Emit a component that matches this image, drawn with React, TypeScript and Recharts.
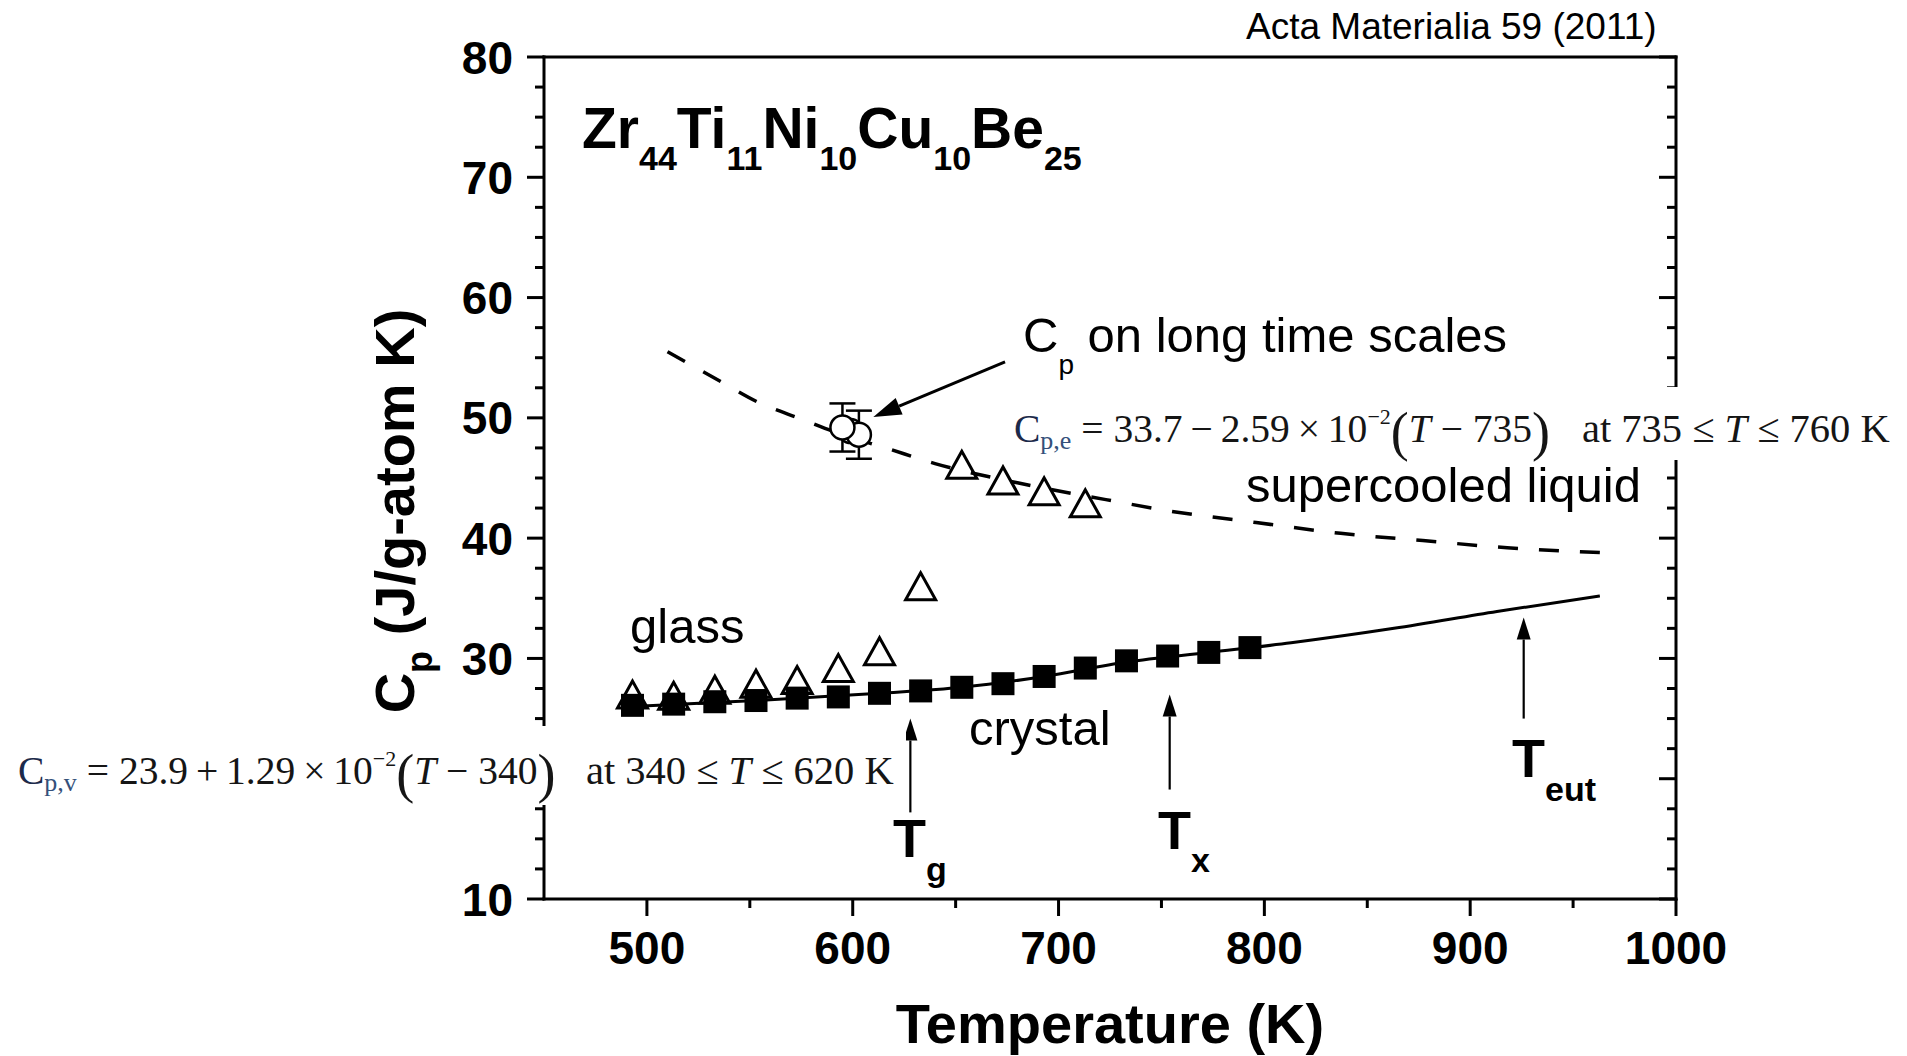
import React from "react"
import { ComposedChart, Line, Scatter, XAxis, YAxis, ErrorBar, ReferenceLine } from "recharts"

// ─── values ──────────────────────────────────────────────────────────────────

// open triangles: glass (heating) + supercooled liquid
const TRI_T = [493, 513, 533, 553, 573, 593, 613, 633, 653, 673, 693, 713]
const TRI_CP = [27.0, 26.9, 27.4, 27.9, 28.2, 29.2, 30.6, 36.0, 46.1, 44.8, 43.9, 42.9]

// filled squares: crystal
const SQ_T = [493, 513, 533, 553, 573, 593, 613, 633, 653, 673, 693, 713, 733, 753, 773, 793]
const SQ_CP = [26.1, 26.2, 26.4, 26.5, 26.7, 26.8, 27.1, 27.3, 27.6, 27.9, 28.5, 29.2, 29.8, 30.2, 30.5, 30.9]

// solid curve through the crystal data, extended to T_eut
const CRYS_T = [493, 553, 613, 653, 693, 733, 773, 813, 863, 913, 963]
const CRYS_CP = [26.0, 26.5, 27.1, 27.6, 28.5, 29.7, 30.5, 31.3, 32.5, 33.9, 35.2]

// dashed curve: supercooled liquid
const LIQ_T = [510, 536, 554, 575, 595, 616, 640, 680, 723, 756, 796, 837, 877, 918, 963]
const LIQ_CP = [55.5, 53.0, 51.3, 49.9, 48.6, 47.5, 46.2, 44.6, 43.2, 42.2, 41.3, 40.4, 39.8, 39.2, 38.8]

// open circles: Cp on long time scales (two with error bars)
const LONG_T = [603, 595]
const LONG_CP = [48.6, 49.2]
const LONG_ERR = [2.0, 2.0]
const LONG_MID_T = [599]
const LONG_MID_CP = [48.9]

const X_TICKS = [500, 550, 600, 650, 700, 750, 800, 850, 900, 950, 1000]
const Y_TICKS = [
  10, 12.5, 15, 17.5, 20, 22.5, 25, 27.5, 30, 32.5, 35, 37.5, 40, 42.5, 45, 47.5,
  50, 52.5, 55, 57.5, 60, 62.5, 65, 67.5, 70, 72.5, 75, 77.5, 80,
]
// the "20" label sits under the pasted equation in the figure
const Y_HIDDEN_LABELS = [20]

// arrows: [from, to] in data units
const ARROWS = [
  { from: [628, 17.2], to: [628, 25.0], head: 22, half: 7, w: 2.2 },
  { from: [754, 19.1], to: [754, 27.0], head: 22, half: 7, w: 2.2 },
  { from: [926, 25.0], to: [926, 33.4], head: 22, half: 7, w: 2.2 },
  { from: [674, 54.65], to: [610, 50.07], head: 28, half: 9, w: 3 },
]

const pts = (ts: number[], vs: number[]) => ts.map((t, i) => ({ t, v: vs[i] }))
const triData = pts(TRI_T, TRI_CP)
const sqData = pts(SQ_T, SQ_CP)
const crysData = pts(CRYS_T, CRYS_CP)
const liqData = pts(LIQ_T, LIQ_CP)
const longData = LONG_T.map((t, i) => ({ t, v: LONG_CP[i], err: LONG_ERR[i] }))
const longMidData = pts(LONG_MID_T, LONG_MID_CP)

const SANS = "'Liberation Sans', Arial, Helvetica, sans-serif"
const SERIF = "'Liberation Serif', 'Times New Roman', serif"
const MAJOR = 17
const MINOR = 9
const AXIS_W = 3
const THIN = "\u2009"

// ─── ticks ───────────────────────────────────────────────────────────────────

function BottomTick({ x, y, payload }: any) {
  const major = payload.value % 100 === 0
  return (
    <g>
      <line x1={x} x2={x} y1={y} y2={y + (major ? MAJOR : MINOR)} stroke="#000" strokeWidth={AXIS_W} />
      {major && (
        <text x={x} y={y + 65} textAnchor="middle" fontFamily={SANS} fontSize={46} fontWeight="bold" fill="#000">
          {payload.value}
        </text>
      )}
    </g>
  )
}

function TopTick({ x, y, payload }: any) {
  const major = payload.value % 100 === 0
  return <line x1={x} x2={x} y1={y} y2={y + (major ? MAJOR : MINOR)} stroke="#000" strokeWidth={AXIS_W} />
}

function LeftTick({ x, y, payload }: any) {
  const major = payload.value % 10 === 0
  const showLabel = major && !Y_HIDDEN_LABELS.includes(payload.value)
  return (
    <g>
      <line x1={x} x2={x - (major ? MAJOR : MINOR)} y1={y} y2={y} stroke="#000" strokeWidth={AXIS_W} />
      {showLabel && (
        <text x={x - 31} y={y + 16.5} textAnchor="end" fontFamily={SANS} fontSize={46} fontWeight="bold" fill="#000">
          {payload.value}
        </text>
      )}
    </g>
  )
}

function RightTick({ x, y, payload }: any) {
  const major = payload.value % 10 === 0
  return <line x1={x} x2={x - (major ? MAJOR : MINOR)} y1={y} y2={y} stroke="#000" strokeWidth={AXIS_W} />
}

// ─── markers ─────────────────────────────────────────────────────────────────

const Triangle = ({ cx, cy }: any) => (
  <polygon
    points={`${cx},${cy - 13.5} ${cx - 15},${cy + 13.5} ${cx + 15},${cy + 13.5}`}
    fill="none" stroke="#000" strokeWidth={3} strokeLinejoin="miter"
  />
)
const Square = ({ cx, cy }: any) => <rect x={cx - 11.5} y={cy - 11.5} width={23} height={23} fill="#000" />
const Ring = ({ cx, cy }: any) => <circle cx={cx} cy={cy} r={12} fill="#fff" stroke="#000" strokeWidth={2.5} />

function arrowShape(head: number, half: number, w: number) {
  return (p: any) => {
    const { x1, y1, x2, y2 } = p
    if (x1 == null || x2 == null) return <g />
    const dx = x2 - x1
    const dy = y2 - y1
    const len = Math.hypot(dx, dy) || 1
    const ux = dx / len
    const uy = dy / len
    const bx = x2 - ux * head
    const by = y2 - uy * head
    return (
      <g>
        <line x1={x1} y1={y1} x2={bx} y2={by} stroke="#000" strokeWidth={w} />
        <polygon
          points={`${x2},${y2} ${bx - uy * half},${by + ux * half} ${bx + uy * half},${by - ux * half}`}
          fill="#000"
        />
      </g>
    )
  }
}

// ─── overlay text ────────────────────────────────────────────────────────────

function Equation({ x, y, sub, body, inner, xB, range }: any) {
  return (
    <g>
      <text x={x} y={y} fontFamily={SERIF} fontSize={39.5} fill="#151515">
        <tspan fill="#1c2a4a">C</tspan>
        <tspan fontSize={26} dy={7} fill="#34507a">{sub}</tspan>
        <tspan dy={-7}>{body}</tspan>
        <tspan fontSize={22} dy={-18}>−2</tspan>
        <tspan fontSize={54} dy={26}>(</tspan>
        <tspan dy={-8} fontStyle="italic">T</tspan>
        <tspan>{inner}</tspan>
        <tspan fontSize={54} dy={8}>)</tspan>
      </text>
      <text x={xB} y={y} fontFamily={SERIF} fontSize={40.5} fill="#151515">
        at {range[0]} ≤ <tspan fontStyle="italic">T</tspan> ≤ {range[1]} K
      </text>
    </g>
  )
}

function Overlay() {
  const t = { fontFamily: SANS, fill: "#000" }
  return (
    <svg width={1907} height={1056} style={{ position: "absolute", left: 0, top: 0 }}>
      <text x={1246} y={39} fontSize={37} {...t}>Acta Materialia 59 (2011)</text>

      <text x={582} y={148} fontSize={57} fontWeight="bold" {...t}>
        Zr<tspan fontSize={34} dy={22}>44</tspan>
        <tspan dy={-22}>Ti</tspan><tspan fontSize={34} dy={22}>11</tspan>
        <tspan dy={-22}>Ni</tspan><tspan fontSize={34} dy={22}>10</tspan>
        <tspan dy={-22}>Cu</tspan><tspan fontSize={34} dy={22}>10</tspan>
        <tspan dy={-22}>Be</tspan><tspan fontSize={34} dy={22}>25</tspan>
      </text>

      <text x={1023} y={352} fontSize={49} {...t}>
        C<tspan fontSize={28} dy={22}>p</tspan><tspan dy={-22}> on long time scales</tspan>
      </text>
      <text x={1246} y={502} fontSize={49} {...t}>supercooled liquid</text>
      <text x={630} y={643} fontSize={49} {...t}>glass</text>
      <text x={969} y={745} fontSize={49} {...t}>crystal</text>

      <text x={893} y={857} fontSize={54} fontWeight="bold" {...t}>
        T<tspan fontSize={34} dy={24}>g</tspan>
      </text>
      <text x={1158} y={849} fontSize={54} fontWeight="bold" {...t}>
        T<tspan fontSize={34} dy={23}>x</tspan>
      </text>
      <text x={1512} y={777} fontSize={54} fontWeight="bold" {...t}>
        T<tspan fontSize={34} dy={24}>eut</tspan>
      </text>

      {/* axis titles */}
      <text x={1110} y={1043} textAnchor="middle" fontSize={56} fontWeight="bold" {...t}>Temperature (K)</text>
      <text x={414} y={511} textAnchor="middle" fontSize={56} fontWeight="bold" transform="rotate(-90 414 511)" {...t}>
        C<tspan fontSize={36} dy={18}>p</tspan><tspan dy={-18}> (J/g-atom K)</tspan>
      </text>

      {/* equations pasted over the figure */}
      <rect x={0} y={726} width={906} height={79} fill="#fff" />
      <Equation
        x={18} y={784} sub="p,v" body={` = 23.9${THIN}+${THIN}1.29${THIN}×${THIN}10`} inner=" − 340"
        xB={586} range={[340, 620]}
      />
      <rect x={1003} y={387} width={904} height={73} fill="#fff" />
      <Equation
        x={1014} y={442} sub="p,e" body={` = 33.7${THIN}−${THIN}2.59${THIN}×${THIN}10`} inner=" − 735"
        xB={1582} range={[735, 760]}
      />
    </svg>
  )
}

// ─── chart ───────────────────────────────────────────────────────────────────

export default function App() {
  const axisLine = { stroke: "#000", strokeWidth: AXIS_W, strokeLinecap: "square" as const }
  return (
    <div style={{ position: "absolute", left: 0, top: 0, width: 1907, height: 1056, background: "#fff" }}>
      <ComposedChart width={1907} height={1056} margin={{ top: 56, right: 230, bottom: 156, left: 424 }}>
        <XAxis
          xAxisId="b" dataKey="t" type="number" domain={[450, 1000]} ticks={X_TICKS} interval={0}
          allowDataOverflow height={1} tickSize={0} tickMargin={0} tickLine={false}
          axisLine={axisLine} tick={<BottomTick />}
        />
        <XAxis
          xAxisId="t" orientation="top" type="number" domain={[450, 1000]} ticks={X_TICKS} interval={0}
          allowDataOverflow height={1} tickSize={0} tickMargin={0} tickLine={false}
          axisLine={axisLine} tick={<TopTick />}
        />
        <YAxis
          yAxisId="l" dataKey="v" type="number" domain={[10, 80]} ticks={Y_TICKS} interval={0}
          allowDataOverflow width={120} tickSize={0} tickMargin={0} tickLine={false}
          axisLine={axisLine} tick={<LeftTick />}
        />
        <YAxis
          yAxisId="r" orientation="right" type="number" domain={[10, 80]} ticks={Y_TICKS} interval={0}
          allowDataOverflow width={1} tickSize={0} tickMargin={0} tickLine={false}
          axisLine={axisLine} tick={<RightTick />}
        />

        <Line
          xAxisId="b" yAxisId="l" data={liqData} dataKey="v" type="monotone" dot={false} activeDot={false}
          stroke="#000" strokeWidth={3.5} strokeDasharray="20 21" isAnimationActive={false}
        />
        <Line
          xAxisId="b" yAxisId="l" data={crysData} dataKey="v" type="monotone" dot={false} activeDot={false}
          stroke="#000" strokeWidth={3} isAnimationActive={false}
        />
        <Scatter xAxisId="b" yAxisId="l" data={triData} dataKey="v" shape={Triangle} isAnimationActive={false} />
        <Scatter xAxisId="b" yAxisId="l" data={sqData} dataKey="v" shape={Square} isAnimationActive={false} />
        <Scatter xAxisId="b" yAxisId="l" data={longMidData} dataKey="v" shape={Ring} isAnimationActive={false} />
        <Scatter xAxisId="b" yAxisId="l" data={longData} dataKey="v" shape={Ring} isAnimationActive={false}>
          <ErrorBar dataKey="err" direction="y" width={13} stroke="#000" strokeWidth={2.5} isAnimationActive={false} />
        </Scatter>

        {ARROWS.map((a, i) => (
          <ReferenceLine
            key={i} xAxisId="b" yAxisId="l"
            segment={[{ x: a.from[0], y: a.from[1] }, { x: a.to[0], y: a.to[1] }]}
            shape={arrowShape(a.head, a.half, a.w)}
          />
        ))}
      </ComposedChart>
      <Overlay />
    </div>
  )
}
